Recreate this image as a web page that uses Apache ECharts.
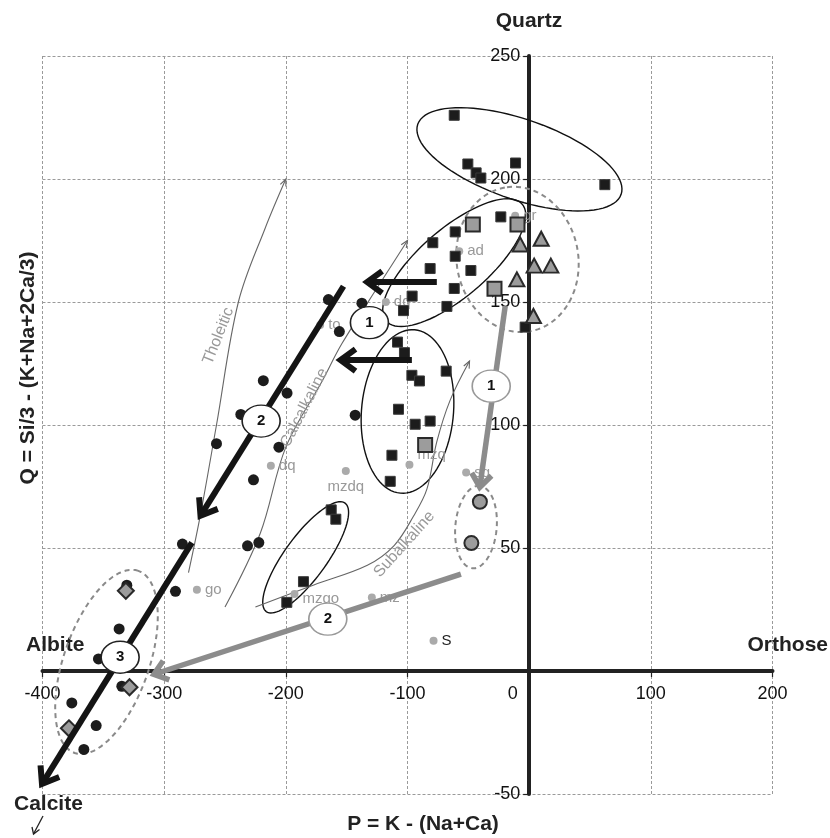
<!DOCTYPE html>
<html><head><meta charset="utf-8">
<script src="https://cdn.jsdelivr.net/npm/echarts@6/dist/echarts.min.js"></script>
<style>html,body{margin:0;padding:0;background:#fff}#c{width:830px;height:838px}</style>
</head><body><div id="c"></div>
<script>
// ---------------- data ----------------
const xRange = [-400, 200], xStep = 100;
const yRange = [-50, 250], yStep = 50;

const blackCircles = [[-165,151],[-137.5,149.5],[-156,138],[-218.5,118],[-199,113],[-237,104.3],[-143,104],[-257,92.4],[-205.7,91],[-226.6,77.7],[-231.5,50.9],[-222.2,52.2],[-285,51.6],[-290.7,32.4],[-330.7,34.9],[-337,17.1],[-354,4.9],[-334.8,-6.2],[-375.9,-13],[-355.9,-22.2],[-366,-31.9]];
const blackSquares = [[-61.6,225.9],[-50.4,206.1],[-43.6,202.5],[-39.7,200.4],[-11.2,206.5],[62.2,197.7],[-23.3,184.6],[-60.8,178.5],[-79.2,174.1],[-60.8,168.6],[-81.4,163.6],[-47.9,162.8],[-61.6,155.5],[-96.2,152.4],[-67.6,148.2],[-103.3,146.5],[-3.3,139.8],[-108.2,133.7],[-102.5,129.4],[-96.4,120.2],[-90.2,117.9],[-68.2,121.9],[-107.4,106.4],[-93.7,100.3],[-81.4,101.6],[-112.8,87.7],[-114.2,77.1],[-162.7,65.5],[-158.9,61.7],[-185.5,36.3],[-199.2,27.9]];
const graySquares = [[-46.3,181.5],[-9.6,181.5],[-28.5,155.4],[-85.5,91.9]];
const grayTriangles = [[-7.4,173.4],[9.9,175.7],[4.1,164.8],[17.8,164.8],[-10.1,159.2],[3.5,144.3]];
const grayCircles = [[-40.5,68.8],[-47.5,52]];
const grayDiamonds = [[-331.5,32.6],[-328.5,-6.6],[-378.3,-23.3]];

const refNames  = ['gr','ad','dq','to','dq','mzdq','mzq','sg','go','mzgo','mz','S'];
const refPoints = [[-11.5,185.1],[-57.5,170.6],[-117.8,150],[-171.8,140.6],[-212.3,83.4],[-150.7,81.3],[-98.4,83.8],[-51.8,80.7],[-273.1,33],[-192.9,31.3],[-129.3,29.9],[-78.6,12.3]];

const curveNames = ['Tholeitic','Calcalkaline','Subalkaline'];
const tholeiticCurve = [[-280,40],[-270,64],[-257,100],[-239,150],[-217,180],[-200,200]];
const calcalkalineCurve = [[-250,26],[-221,56],[-200,91],[-170,118],[-154,133],[-122,158],[-100,175]];
const subalkalineCurve = [[-225,26],[-177,35],[-133,43],[-111,51],[-95,63],[-84,74],[-76,93],[-65,110],[-49,126]];
const curveLabelAnchors = [[-255.4,136.2],[-184.8,107],[-102.6,51.5]];

// ellipses: centre x, centre y, semi-major, semi-minor (in x units), angle (deg)
const solidEllipses  = [[-8,208,88.4,33,-19],[-61.6,166,73.7,28,40.7],[-100,105.5,67.4,37.8,85],[-183.7,46.2,55.1,17.3,54]];
const dashedEllipses = [[-9.6,167.3,60,50,100],[-43.7,58.5,34,17,85],[-347.4,3.7,79.3,35,70.7]];

// arrows: from x, from y, to x, to y
const blackArrows = [[-152.6,156.4,-271,62.4],[-277.2,52.2,-401.3,-46.6],[-75.9,158.1,-134.8,158.1],[-96.4,126.4,-156.7,126.4]];
const grayArrows  = [[-19.7,148.3,-40.8,73.9],[-56.1,39.4,-310,-1.6]];

const blackLabelNames = ['1','2','3'];
const blackLabelPts   = [[-131.3,141.6],[-220.3,101.6],[-336.2,5.6]];
const grayLabelNames  = ['1','2'];
const grayLabelPts    = [[-31.2,115.8],[-165.5,21.1]];

// ---------------- chart ----------------
const FONT = '"Liberation Sans", Arial, sans-serif';
const curves = [tholeiticCurve, calcalkalineCurve, subalkalineCurve];
const curveAngles = [68.2, 62.8, 48.1];
const refLabelOpts = {
  mzdq: {position:'bottom', distance:4},
  mzq: {position:'right', offset:[0,-10]},
  mzgo: {position:'right', offset:[0,5]},
  S: {position:'right', color:'#222', fontSize:15}
};

const GRID = {left:42.5, right:57.5, top:56, bottom:44};
const W = 830, H = 838;
const gridW = W - GRID.left - GRID.right, gridH = H - GRID.top - GRID.bottom;
// axes cross at zero: shift them from the grid edge onto the zero lines
const xAxisOffset = -(0 - yRange[0]) / (yRange[1] - yRange[0]) * gridH;
const yAxisOffset = -(0 - xRange[0]) / (xRange[1] - xRange[0]) * gridW;

const chart = echarts.init(document.getElementById('c'), null, {renderer:'canvas'});

function ellipseRender(stroke, width, dash) {
  return function(params, api) {
    const c = api.coord([api.value(0), api.value(1)]);
    const sx = api.size([1, 0])[0];
    const a = api.value(2) * sx, b = api.value(3) * sx, t = api.value(4) * Math.PI / 180;
    const pts = [];
    for (let i = 0; i <= 90; i++) {
      const u = i / 90 * 2 * Math.PI;
      const x = a * Math.cos(u), y = b * Math.sin(u);
      pts.push([c[0] + x * Math.cos(t) - y * Math.sin(t), c[1] - (x * Math.sin(t) + y * Math.cos(t))]);
    }
    return {type:'polygon', shape:{points:pts}, style:{fill:null, stroke:stroke, lineWidth:width, lineDash:dash}};
  };
}

function arrowRender(color, width, hl, hw) {
  return function(params, api) {
    const p0 = api.coord([api.value(0), api.value(1)]);
    const p1 = api.coord([api.value(2), api.value(3)]);
    const dx = p1[0]-p0[0], dy = p1[1]-p0[1], L = Math.hypot(dx, dy);
    const ux = dx/L, uy = dy/L;
    const bk = [p1[0]-ux*hl, p1[1]-uy*hl];
    const left = [bk[0]-uy*hw, bk[1]+ux*hw], right = [bk[0]+uy*hw, bk[1]-ux*hw];
    return {type:'group', children:[
      {type:'line', shape:{x1:p0[0], y1:p0[1], x2:p1[0]-ux*3, y2:p1[1]-uy*3}, style:{stroke:color, lineWidth:width}},
      {type:'polyline', shape:{points:[left, [p1[0]-ux*2, p1[1]-uy*2], right]}, style:{stroke:color, lineWidth:width, fill:null, lineJoin:'miter', lineCap:'butt'}}
    ]};
  };
}

function curveRender(params, api) {
  const idx = api.value(2);
  const pts = curves[idx].map(p => api.coord(p));
  const n = pts.length;
  const p1 = pts[n-1], p0 = pts[n-2];
  const dx = p1[0]-p0[0], dy = p1[1]-p0[1], L = Math.hypot(dx, dy);
  const ux = dx/L, uy = dy/L, hl = 7, hw = 3;
  const bk = [p1[0]-ux*hl, p1[1]-uy*hl];
  const la = api.coord(curveLabelAnchors[idx]);
  return {type:'group', children:[
    {type:'polyline', shape:{points:pts, smooth:0.35}, style:{stroke:'#666', lineWidth:1.1, fill:null}},
    {type:'polyline', shape:{points:[[bk[0]-uy*hw, bk[1]+ux*hw], p1, [bk[0]+uy*hw, bk[1]-ux*hw]]}, style:{stroke:'#666', lineWidth:1.1, fill:null}},
    {type:'text', x:la[0], y:la[1], rotation:curveAngles[idx]*Math.PI/180,
      style:{text:curveNames[idx], fill:'#999', font:'16px '+FONT, align:'center', verticalAlign:'middle'}}
  ]};
}

const markerBase = {type:'scatter', animation:false};
const grayMarker = {color:'#9c9c9c', borderColor:'#2a2a2a', borderWidth:2, opacity:1};

const option = {
  animation:false,
  backgroundColor:'#fff',
  grid:{left:GRID.left, right:GRID.right, top:GRID.top, bottom:GRID.bottom, containLabel:false},
  xAxis:{
    type:'value', min:xRange[0], max:xRange[1], interval:xStep, position:'bottom', offset:xAxisOffset,
    axisLine:{show:true, onZero:false, lineStyle:{color:'#222', width:4}},
    axisTick:{show:true, length:6, lineStyle:{color:'#222', width:1.2}},
    axisLabel:{fontSize:18, color:'#111', fontFamily:FONT, margin:14,
      formatter:v => v === 0 ? '{z|0}' : String(v),
      rich:{z:{fontSize:18, color:'#111', fontFamily:FONT, padding:[0,33,0,0]}}},
    splitLine:{show:true, lineStyle:{color:'#9a9a9a', width:1, type:[3,2]}}
  },
  yAxis:{
    type:'value', min:yRange[0], max:yRange[1], interval:yStep, position:'left', offset:yAxisOffset,
    axisLine:{show:true, onZero:false, lineStyle:{color:'#222', width:4}},
    axisTick:{show:true, length:6, lineStyle:{color:'#222', width:1.2}},
    axisLabel:{fontSize:18, color:'#111', fontFamily:FONT, margin:9,
      formatter:v => v === 0 ? '' : String(v)},
    splitLine:{show:true, lineStyle:{color:'#9a9a9a', width:1, type:[3,2]}}
  },
  graphic:[
    {type:'text', style:{text:'Quartz', font:'bold 21px '+FONT, fill:'#222', x:529, y:21, align:'center', verticalAlign:'middle'}},
    {type:'text', style:{text:'Albite', font:'bold 21px '+FONT, fill:'#222', x:26, y:645, align:'left', verticalAlign:'middle'}},
    {type:'text', style:{text:'Orthose', font:'bold 21px '+FONT, fill:'#222', x:828, y:645, align:'right', verticalAlign:'middle'}},
    {type:'text', style:{text:'Calcite', font:'bold 21px '+FONT, fill:'#222', x:14, y:804, align:'left', verticalAlign:'middle'}},
    {type:'text', style:{text:'P = K - (Na+Ca)', font:'bold 21px '+FONT, fill:'#222', x:423, y:824, align:'center', verticalAlign:'middle'}},
    {type:'text', x:28, y:368, rotation:Math.PI/2, style:{text:'Q = Si/3 - (K+Na+2Ca/3)', font:'bold 21px '+FONT, fill:'#222', x:0, y:0, align:'center', verticalAlign:'middle'}},
    {type:'polyline', shape:{points:[[43,816],[33.5,834]]}, style:{stroke:'#222', lineWidth:1.3, fill:null}},
    {type:'polyline', shape:{points:[[32,827],[33.5,834],[39.5,829.5]]}, style:{stroke:'#222', lineWidth:1.3, fill:null}}
  ],
  series:[
    {type:'custom', name:'solidEllipses', renderItem:ellipseRender('#111', 1.4, null), data:solidEllipses, encode:{x:0, y:1}, silent:true, z:1},
    {type:'custom', name:'dashedEllipses', renderItem:ellipseRender('#8a8a8a', 2, [5,4]), data:dashedEllipses, encode:{x:0, y:1}, silent:true, z:1},
    {type:'custom', name:'curves', renderItem:curveRender, data:curves.map((c,i)=>[c[0][0], c[0][1], i]), encode:{x:0, y:1}, silent:true, z:1},
    Object.assign({}, markerBase, {name:'ref', symbol:'circle', symbolSize:8, z:2,
      itemStyle:{color:'#aaa', opacity:1},
      data:refPoints.map((p,i)=>{
        const o = refLabelOpts[refNames[i]] || {};
        return {value:p, name:refNames[i], label:Object.assign({show:true, position:'right', distance:4, formatter:refNames[i], color:'#999', fontSize:15, fontFamily:FONT}, o)};
      })}),
    Object.assign({}, markerBase, {name:'blackCircles', symbol:'circle', symbolSize:11, z:3, itemStyle:{color:'#1c1c1c', opacity:1}, data:blackCircles}),
    Object.assign({}, markerBase, {name:'blackSquares', symbol:'rect', symbolSize:10, z:3, itemStyle:{color:'#1c1c1c', borderColor:'#3a3a3a', borderWidth:1, opacity:1}, data:blackSquares}),
    Object.assign({}, markerBase, {name:'graySquares', symbol:'rect', symbolSize:14, z:3, itemStyle:grayMarker, data:graySquares}),
    Object.assign({}, markerBase, {name:'grayTriangles', symbol:'triangle', symbolSize:[15,14], z:3, itemStyle:grayMarker, data:grayTriangles}),
    Object.assign({}, markerBase, {name:'grayCircles', symbol:'circle', symbolSize:14, z:3, itemStyle:grayMarker, data:grayCircles}),
    Object.assign({}, markerBase, {name:'grayDiamonds', symbol:'diamond', symbolSize:16, z:3, itemStyle:grayMarker, data:grayDiamonds}),
    {type:'custom', name:'grayArrows', renderItem:arrowRender('#8c8c8c', 5.5, 15, 10), data:grayArrows, encode:{x:[0,2], y:[1,3]}, silent:true, z:4},
    {type:'custom', name:'blackArrows', renderItem:arrowRender('#141414', 6, 17, 11), data:blackArrows, encode:{x:[0,2], y:[1,3]}, silent:true, z:4},
    Object.assign({}, markerBase, {name:'blackLabels', symbol:'circle', symbolSize:[38,32], z:5,
      itemStyle:{color:'#fff', borderColor:'#222', borderWidth:1.5, opacity:1},
      label:{show:true, position:'inside', color:'#111', fontWeight:'bold', fontSize:15, fontFamily:FONT, formatter:p=>blackLabelNames[p.dataIndex]},
      data:blackLabelPts}),
    Object.assign({}, markerBase, {name:'grayLabels', symbol:'circle', symbolSize:[38,32], z:5,
      itemStyle:{color:'#fff', borderColor:'#999', borderWidth:1.5, opacity:1},
      label:{show:true, position:'inside', color:'#111', fontWeight:'bold', fontSize:15, fontFamily:FONT, formatter:p=>grayLabelNames[p.dataIndex]},
      data:grayLabelPts})
  ]
};
chart.setOption(option);
</script>
</body></html>
